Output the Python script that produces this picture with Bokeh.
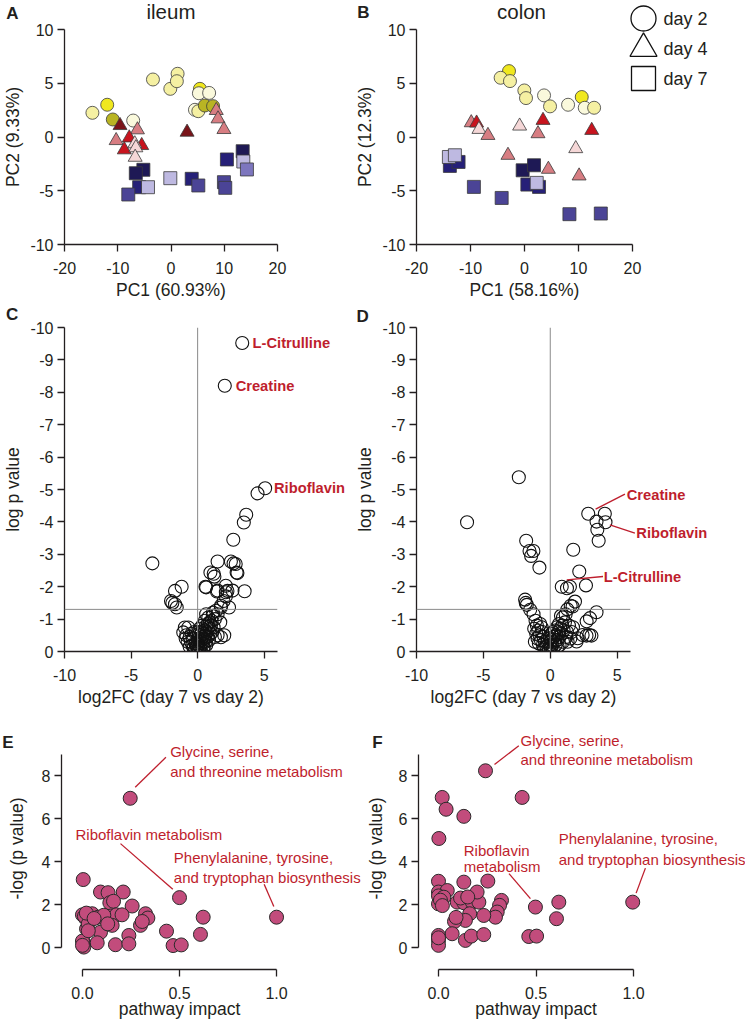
from bokeh.plotting import figure
from bokeh.models import Range1d, FixedTicker, PrintfTickFormatter, Span, ColumnDataSource
from bokeh.core.properties import value
from bokeh.layouts import column, row
from bokeh.embed import file_html
from bokeh.resources import INLINE

FONT = "Liberation Sans"
INK = "#231f20"
RED = "#BE1E2D"

# ------------------------------------------------------------------ data
SHADES = {
    "bright": "#F0E81E", "pale": "#F5F0A2", "cream": "#FAF9DC", "olive": "#B9B423",
    "darkred": "#7A1419", "red": "#C8141E", "pink": "#D77D82", "lightpink": "#F5D7D7",
    "navy": "#1E1955", "dblue": "#262078", "slate": "#4B4496", "medium": "#7D76BE",
    "lav": "#BEB9E1",
}
days = ["day 2", "day 4", "day 7"]
day_markers = ["circle", "triangle", "square"]

# ileum PCA
ileum_d2_x = [-14.76, -11.98, -10.93, -7.10, -3.39, -0.13, 1.24, 1.10, 5.43, 5.24, 7.16, 4.50, 5.13, 6.35, 7.90]
ileum_d2_y = [2.25, 3.00, 1.63, 1.53, 5.35, 4.48, 5.88, 5.19, 4.48, 4.07, 4.10, 2.53, 2.40, 2.93, 2.87]
ileum_d2_c = ["pale", "bright", "olive", "cream", "pale", "pale", "pale", "pale", "bright", "cream",
              "cream", "cream", "pale", "olive", "olive"]
ileum_d4_x = [-9.57, -6.30, -10.30, -7.84, -8.77, -5.50, -6.80, -6.60, -6.73, 3.02, 8.50, 8.83, 9.94]
ileum_d4_y = [1.07, 0.67, -0.33, -0.08, -1.19, -0.79, -0.63, -1.00, -1.88, 0.45, 2.47, 1.69, 0.70]
ileum_d4_c = ["darkred", "pink", "pink", "red", "red", "red", "lightpink", "lightpink", "lightpink",
              "darkred", "pink", "pink", "pink"]
ileum_d7_x = [-5.19, -6.61, -5.98, -8.02, -4.32, -0.13, 3.89, 5.13, 10.50, 9.94, 10.19, 13.46, 13.58, 14.26]
ileum_d7_y = [-3.05, -3.37, -4.67, -5.35, -4.67, -3.83, -3.89, -4.51, -2.09, -4.20, -4.73, -1.32, -2.28, -3.02]
ileum_d7_c = ["navy", "navy", "dblue", "slate", "lav", "lav", "dblue", "slate", "dblue", "slate",
              "slate", "navy", "lav", "medium"]

# colon PCA
colon_d2_x = [-2.87, -4.42, -2.69, -0.03, 0.28, 3.62, 4.73, 8.07, 10.60, 11.16, 12.89]
colon_d2_y = [6.13, 5.51, 5.20, 4.33, 3.62, 3.87, 2.85, 3.00, 3.72, 2.72, 2.72]
colon_d2_c = ["bright", "pale", "pale", "pale", "pale", "cream", "pale", "cream", "bright", "cream", "pale"]
colon_d4_x = [-9.86, -8.87, -8.44, -6.77, -0.90, 2.50, 3.43, 12.45, -3.06, 4.42, 9.49, 10.11]
colon_d4_y = [1.33, 1.30, 0.71, 0.15, 1.02, 0.31, 1.55, 0.62, -1.70, -3.00, -1.08, -3.62]
colon_d4_c = ["pink", "red", "lightpink", "pink", "lightpink", "pink", "red", "red", "pink", "pink",
              "lightpink", "pink"]
colon_d7_x = [-13.82, -12.21, -14.00, -12.89, -9.37, -4.23, -0.34, 1.76, 0.53, 2.69, 2.26, 8.32, 14.13]
colon_d7_y = [-2.69, -2.32, -1.86, -1.70, -4.64, -5.67, -3.10, -2.63, -4.43, -4.64, -4.27, -7.18, -7.12]
colon_d7_c = ["dblue", "dblue", "lav", "lav", "slate", "slate", "navy", "navy", "dblue", "dblue",
              "lav", "slate", "slate"]

# volcano, ileum (log2FC, log p)
ileum_fc = [3.35, 2.04, 5.07, 4.50, 3.65, 3.47, 2.68, -3.40, 1.50, 2.50, 2.70, 2.86, 0.96, 1.26, 1.21,
            2.99, 2.93, 0.64, 0.59, 1.50, 2.12, 2.12, 2.24, 2.62, 3.53, 1.45, -1.20, -1.70, -2.00,
            -1.70, -1.57, -1.90, 1.95, 1.75, 2.12, 2.36, 1.75, 1.38, 0.64, 1.14, 1.50, 1.70, 0.77,
            1.75, 2.00, 1.05, 1.30, 0.90, -0.96, -0.70, -1.08, -0.85, -0.60, -0.90, -0.50, -0.75,
            -0.40, -0.60, -0.30, -0.20, -0.45, 0.00, 0.10, -0.10, 0.15, 0.05, -0.15, 0.20, 0.30,
            0.25, 0.40, 0.35, 0.50, 0.45, 0.60, 0.55, 0.70, 0.80, 0.65, 0.90, 1.00, 0.75, 0.60,
            0.30, 0.10, 0.00, 0.20, -0.05, 0.45, 0.85, 1.10, 1.20, 0.95, 1.30, 1.50, 0.15, -0.25,
            -0.35, 0.05, 0.35, 0.55, 1.15, 0.80, 0.45, 0.65, 0.25]
ileum_lp = [-9.52, -8.20, -5.04, -4.88, -4.22, -3.98, -3.45, -2.72, -2.78, -2.78, -2.72, -2.70, -2.44,
            -2.31, -2.40, -2.42, -2.44, -1.98, -2.00, -1.88, -2.03, -1.83, -1.87, -1.88, -1.86, -1.85,
            -2.00, -1.87, -1.56, -1.46, -1.36, -1.50, -1.56, -1.41, -1.70, -1.36, -1.36, -1.26, -1.15,
            -1.10, -1.15, -0.90, -0.85, -0.44, -0.50, -0.95, -1.00, -0.70, -0.74, -0.74, -0.59, -0.50,
            -0.45, -0.40, -0.30, -0.30, -0.20, -0.15, -0.10, -0.05, -0.55, 0.00, -0.05, -0.02, -0.15,
            -0.20, -0.25, -0.10, -0.25, -0.35, -0.30, -0.45, -0.40, -0.55, -0.50, -0.65, -0.60, -0.75,
            -0.80, -0.90, -0.80, -0.45, -0.30, -0.60, -0.40, -0.30, -0.50, -0.15, -0.15, -0.35, -0.60,
            -0.75, -0.55, -0.45, -0.50, -0.70, -0.60, -0.40, -0.60, -0.80, -0.95, -1.20, -1.05, -0.10,
            -0.20, -0.05]
ileum_named = {"L-Citrulline": 0, "Creatine": 1, "Riboflavin": 2}

# volcano, colon
colon_fc = [-2.35, -6.22, 2.84, 4.08, 3.46, 4.13, 3.52, 3.62, -1.80, -1.55, -1.26, -1.43, -0.81, 1.72,
            2.17, 0.86, 1.47, 1.25, 2.67, -1.88, -1.75, -1.83, -1.50, -1.25, 1.85, 1.53, 1.28, 1.67,
            3.46, 2.97, 2.72, 2.91, 2.42, 2.05, 3.08, 2.71, 1.97, -1.10, -1.00, -1.20, -0.90, -1.05,
            -0.80, -0.95, -0.70, -0.60, -0.85, -0.55, -0.40, -0.45, -0.30, -0.25, -0.65, -0.50, -0.20,
            -0.75, -1.15, 0.00, 0.05, -0.10, 0.15, 0.20, 0.30, 0.25, 0.40, 0.45, 0.50, 0.60, 0.55,
            0.70, 0.75, 0.85, 0.90, 1.00, 0.65, 0.95, 1.10, 1.15, 0.80, 1.25, 1.40, 1.50, 1.60, 1.30,
            0.35, 0.10, 0.00, 0.20, 0.50, 1.70, 1.20, 0.95, 0.70, 0.10, -0.05]
colon_lp = [-5.38, -3.99, -4.25, -4.25, -4.01, -3.99, -3.76, -3.42, -3.42, -3.10, -3.10, -2.95, -2.59,
            -3.14, -2.47, -2.00, -2.00, -1.95, -2.04, -1.60, -1.44, -1.50, -1.29, -1.15, -1.54, -1.41,
            -1.30, -1.39, -1.21, -1.03, -0.93, -0.51, -0.51, -0.41, -0.49, -0.49, -0.31, -0.95, -0.80,
            -0.70, -0.65, -0.55, -0.50, -0.40, -0.35, -0.60, -0.25, -0.20, -0.30, -0.10, -0.15, -0.05,
            -0.75, -0.45, -0.30, -0.85, -0.30, 0.00, -0.10, -0.05, -0.20, -0.05, -0.30, -0.45, -0.20,
            -0.50, -0.35, -0.60, -0.15, -0.45, -0.70, -0.55, -0.80, -0.65, -0.85, -1.05, -0.90, -1.15,
            -1.10, -0.60, -0.80, -0.40, -0.60, -0.30, -0.65, -0.35, -0.20, -0.60, -0.75, -0.75, -0.45,
            -0.30, -0.20, -0.55, -0.40]
colon_named = {"Creatine": 2, "Riboflavin": 5, "L-Citrulline": 15}

P_THRESHOLD = -1.3  # log10(0.05)

# pathway analysis
ileum_impact = [0.246, 0.004, 0.093, 0.132, 0.210, 0.141, 0.160, 0.500, 0.256, 0.622, 1.000, 0.000,
                0.015, 0.050, 0.081, 0.144, 0.175, 0.204, 0.325, 0.337, 0.021, 0.093, 0.153, 0.299,
                0.308, 0.007, 0.007, 0.076, 0.170, 0.239, 0.239, 0.433, 0.467, 0.509, 0.608, 0.010,
                0.030, 0.000, 0.020, 0.110, 0.130, 0.030, 0.060, 0.000]
ileum_nlp = [6.94, 3.16, 2.58, 2.55, 2.58, 2.08, 2.15, 2.32, 1.93, 1.41, 1.41, 1.52, 1.37, 1.57, 1.41,
             1.46, 1.52, 1.52, 1.57, 1.37, 0.87, 0.71, 1.03, 1.03, 1.21, 0.22, 0.02, 0.22, 0.13, 0.56,
             0.17, 0.76, 0.09, 0.12, 0.61, 1.45, 1.10, 0.30, 1.60, 1.50, 1.10, 0.78, 1.35, 0.10]
ileum_pathways = {"Glycine, serine,\nand threonine metabolism": 0,
                  "Riboflavin metabolism": 7,
                  "Phenylalanine, tyrosine,\nand tryptophan biosynthesis": 10}

colon_impact = [0.241, 0.019, 0.429, 0.039, 0.130, 0.002, 0.000, 0.130, 0.253, 0.497, 0.617, 0.996,
                0.605, 0.463, 0.503, 0.000, 0.045, 0.000, 0.027, 0.000, 0.096, 0.130, 0.173, 0.207,
                0.113, 0.198, 0.323, 0.313, 0.301, 0.292, 0.232, 0.160, 0.138, 0.082, 0.070, 0.000,
                0.000, 0.000, 0.138, 0.168, 0.232, 0.010, 0.000, 0.150, 0.090, 0.020]
colon_nlp = [8.22, 6.98, 6.98, 6.43, 6.10, 5.07, 3.08, 3.04, 3.09, 1.88, 2.11, 2.11, 1.34, 0.51, 0.53,
             2.58, 2.65, 2.40, 2.34, 2.03, 2.11, 2.08, 2.11, 2.11, 2.30, 2.58, 2.19, 1.96, 1.65, 1.41,
             1.49, 1.57, 1.26, 1.21, 0.64, 0.56, 0.33, 0.10, 0.33, 0.53, 0.60, 2.20, 0.45, 2.35, 1.40,
             1.95]
colon_pathways = {"Glycine, serine,\nand threonine metabolism": 0,
                  "Riboflavin\nmetabolism": 9,
                  "Phenylalanine, tyrosine,\nand tryptophan biosynthesis": 11}


# ------------------------------------------------------------------ helpers
def style_axis(ax, tick_standoff, label_standoff):
    ax.axis_line_color = INK
    ax.axis_line_width = 1.3
    ax.major_tick_line_color = INK
    ax.major_tick_line_width = 1.3
    ax.major_tick_out = 7
    ax.major_tick_in = 0
    ax.minor_tick_line_color = None
    ax.major_label_text_font = FONT
    ax.major_label_text_font_size = "16px"
    ax.major_label_text_color = INK
    ax.major_label_standoff = tick_standoff
    ax.axis_label_text_font = FONT
    ax.axis_label_text_font_size = "17.5px"
    ax.axis_label_text_font_style = "normal"
    ax.axis_label_text_color = INK
    ax.axis_label_standoff = label_standoff


def make_fig(w, h, xr, yr, left, right, top, bottom):
    p = figure(width=w, height=h, x_range=Range1d(*xr), y_range=Range1d(*yr),
               min_border_left=left, min_border_right=right,
               min_border_top=top, min_border_bottom=bottom,
               toolbar_location=None, output_backend="svg", title=None)
    p.outline_line_color = None
    p.xgrid.visible = False
    p.ygrid.visible = False
    p.background_fill_color = "white"
    p.border_fill_color = "white"
    p._fw = w - left - right
    p._fh = h - top - bottom
    return p


def shift(p, x, y, dx, dy):
    """data point moved by (dx right, dy down) screen pixels"""
    xr, yr = p.x_range, p.y_range
    return (x + dx * (xr.end - xr.start) / p._fw, y - dy * (yr.end - yr.start) / p._fh)


def text(p, x, y, t, dx=0, dy=0, size="15px", color=INK, style="normal",
         align="left", baseline="middle", lh=1.2):
    tx, ty = shift(p, x, y, dx, dy)
    r = p.text(x=[tx], y=[ty], text=[t], text_font=value(FONT), text_font_size=value(size),
               text_color=color, text_font_style=style, text_align=align,
               text_baseline=baseline, text_line_height=lh)
    r.level = "overlay"


def leader(p, x, y, d0, d1, color=RED):
    x0, y0 = shift(p, x, y, *d0)
    x1, y1 = shift(p, x, y, *d1)
    r = p.segment(x0=[x0], y0=[y0], x1=[x1], y1=[y1], line_color=color, line_width=1.3)
    r.level = "overlay"


def letter(p, t, x, y, dx, dy):
    text(p, x, y, t, dx=dx, dy=dy, size="17px", style="bold")


INT_FMT = PrintfTickFormatter(format="%d")


# ------------------------------------------------------------------ PCA
def pca(w, left, right, title, groups, xlab, ylab, title_dx=0):
    p = make_fig(w, 305, (-20, 20), (-10, 10), left, right, 29, 61)
    p.xaxis.ticker = FixedTicker(ticks=[-20, -10, 0, 10, 20])
    p.yaxis.ticker = FixedTicker(ticks=[-10, -5, 0, 5, 10])
    p.xaxis.formatter = INT_FMT
    p.yaxis.formatter = INT_FMT
    p.xaxis.axis_label = xlab
    p.yaxis.axis_label = ylab
    style_axis(p.xaxis[0], 10, 3)
    style_axis(p.yaxis[0], 4, 4)
    for (xs, ys, cs), mk in zip(groups, day_markers):
        src = ColumnDataSource(dict(x=xs, y=ys, c=[SHADES[c] for c in cs]))
        p.scatter("x", "y", source=src, marker=mk, size=14 if mk == "triangle" else 13,
                  fill_color="c", line_color="#3a3a3a", line_width=0.8)
    text(p, 0, 10, title, dx=title_dx, dy=-18.5, size="20.5px", align="center")
    return p


pA = pca(345, 61, 68, "ileum",
         [(ileum_d2_x, ileum_d2_y, ileum_d2_c), (ileum_d4_x, ileum_d4_y, ileum_d4_c),
          (ileum_d7_x, ileum_d7_y, ileum_d7_c)], "PC1 (60.93%)", "PC2 (9.33%)")
letter(pA, "A", -20, 10, -59, -16.5)

pB = pca(400, 71, 113, "colon",
         [(colon_d2_x, colon_d2_y, colon_d2_c), (colon_d4_x, colon_d4_y, colon_d4_c),
          (colon_d7_x, colon_d7_y, colon_d7_c)], "PC1 (58.16%)", "PC2 (12.3%)", title_dx=-3)
letter(pB, "B", -20, 10, -59.3, -17)

# legend, just outside the colon frame (upper right)
leg_pos = [shift(pB, -20, 10, 227, dy) for dy in (-11, 19, 49)]
leg_src = ColumnDataSource(dict(x=[q[0] for q in leg_pos], y=[q[1] for q in leg_pos],
                                m=day_markers, s=[25, 27, 24]))
leg_r = pB.scatter("x", "y", source=leg_src, marker="m", size="s", fill_color="white",
                   line_color="#111111", line_width=1.3)
leg_r.level = "overlay"
for (lx, ly), d in zip(leg_pos, days):
    text(pB, lx, ly, d, dx=20, size="18px")


# ------------------------------------------------------------------ volcano
def volcano(w, left, right, fc, lp):
    p = make_fig(w, 420, (-10, 6), (0, -10), left, right, 22, 74)
    p.xaxis.ticker = FixedTicker(ticks=[-10, -5, 0, 5])
    p.yaxis.ticker = FixedTicker(ticks=list(range(-10, 1)))
    p.xaxis.formatter = INT_FMT
    p.yaxis.formatter = INT_FMT
    p.xaxis.axis_label = "log2FC (day 7 vs day 2)"
    p.yaxis.axis_label = "log p value"
    style_axis(p.xaxis[0], 10, 3)
    style_axis(p.yaxis[0], 4, 4)
    p.add_layout(Span(location=0, dimension="height", line_color="#8a8a8a", line_width=1))
    p.add_layout(Span(location=P_THRESHOLD, dimension="width", line_color="#8a8a8a", line_width=1))
    p.scatter(fc, lp, size=13, fill_color=None, line_color="#111111", line_width=1.1)
    return p


pC = volcano(345, 61, 68, ileum_fc, ileum_lp)
letter(pC, "C", -10, -10, -59.3, -12.7)
for name, dx in (("L-Citrulline", 10.5), ("Creatine", 11), ("Riboflavin", 9)):
    i = ileum_named[name]
    text(pC, ileum_fc[i], ileum_lp[i], name, dx=dx, size="14.7px", color=RED, style="bold")

pD = volcano(400, 71, 115, colon_fc, colon_lp)
letter(pD, "D", -10, -10, -60, -11.5)
d_ann = {"Creatine": ((7.4, -4.6), (36.7, -19.6), (38.5, -19.3)),
         "Riboflavin": ((4.4, 2.6), (29.4, 11), (30.8, 11)),
         "L-Citrulline": ((5, -6.9), (41.3, -10.2), (42, -10.2))}
for name, (a, b, t) in d_ann.items():
    i = colon_named[name]
    leader(pD, colon_fc[i], colon_lp[i], a, b)
    text(pD, colon_fc[i], colon_lp[i], name, dx=t[0], dy=t[1], size="14.7px", color=RED, style="bold")


# ------------------------------------------------------------------ pathway impact
Y0 = -22 / 21.5
Y1 = Y0 + 242 / 21.5


def pathway(w, left, right, xr, imp, nlp, ylab_standoff):
    p = make_fig(w, 299, xr, (Y0, Y1), left, right, 2, 55)
    p.xaxis.ticker = FixedTicker(ticks=[0, 0.5, 1.0])
    p.xaxis.formatter = PrintfTickFormatter(format="%.1f")
    p.xaxis.bounds = (0, 1)
    p.yaxis.ticker = FixedTicker(ticks=[0, 2, 4, 6, 8])
    p.yaxis.formatter = INT_FMT
    p.yaxis.bounds = (0, 9)
    p.xaxis.axis_label = "pathway impact"
    p.yaxis.axis_label = "-log (p value)"
    style_axis(p.xaxis[0], 10, -3)
    style_axis(p.yaxis[0], 4, ylab_standoff)
    p.scatter(imp, nlp, size=14, fill_color="#C24C7C", line_color="#2a2a2a", line_width=1)
    return p


pE = pathway(362, 61, 65, (-0.108, 1.108), ileum_impact, ileum_nlp, 12)
letter(pE, "E", -0.108, 0, -59.3, -205.5)
e_ann = [((5, -11), (35.7, -41), (40, -37)),
         ((-59, -54), (-6.7, -8.3), (-104, -63.3)),
         ((-12.4, -33), (-2.7, -10.6), (-102.7, -49.8))]
for (name, i), (a, b, t) in zip(ileum_pathways.items(), e_ann):
    leader(pE, ileum_impact[i], ileum_nlp[i], a, b)
    text(pE, ileum_impact[i], ileum_nlp[i], name, dx=t[0], dy=t[1], color=RED)

pF = pathway(383, 56, 92, (-0.10256, 1.10256), colon_impact, colon_nlp, 10)
letter(pF, "F", -0.10256, 0, -46.3, -205.5)
f_ann = [((9, -6.3), (33.3, -25), (35, -20.7), 1.1),
         ((-26.4, -33.4), (-5, -8.4), (-71.7, -48.8), 0.95),
         ((12.7, -34), (3.4, -9), (-74, -53.1), 1.2)]
for (name, i), (a, b, t, lh) in zip(colon_pathways.items(), f_ann):
    leader(pF, colon_impact[i], colon_nlp[i], a, b)
    text(pF, colon_impact[i], colon_nlp[i], name, dx=t[0], dy=t[1], color=RED, lh=lh)

layout = column(row(pA, pB), row(pC, pD), row(pE, pF))
open("out.html", "w").write(file_html(layout, INLINE))
